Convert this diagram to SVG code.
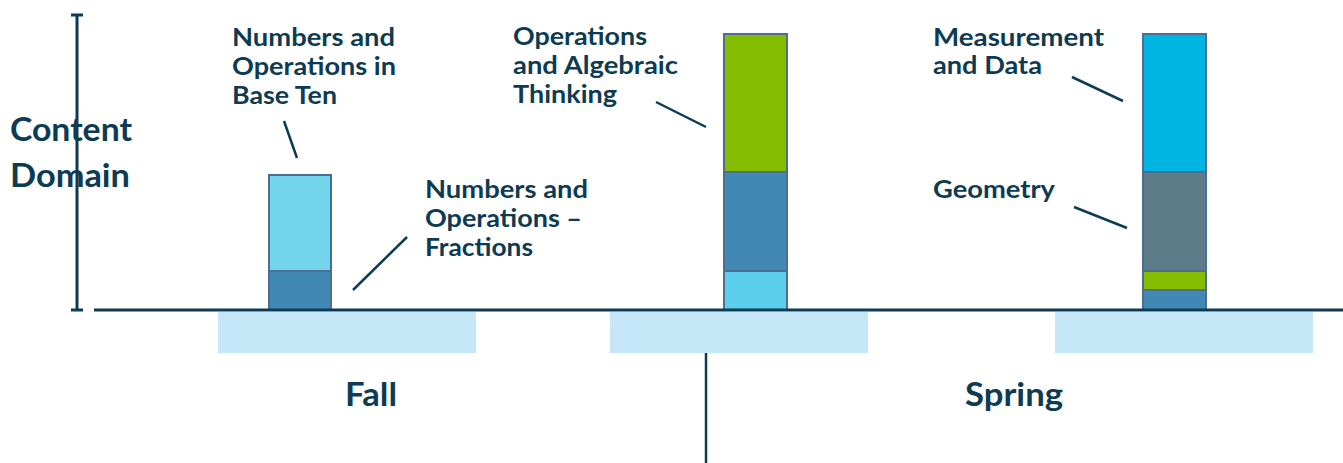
<svg xmlns="http://www.w3.org/2000/svg" width="1343" height="463" viewBox="0 0 1343 463">
<style>
.t{font-family:Lato,"Open Sans","Liberation Sans",sans-serif;font-weight:700;fill:#0d3b53;}
.lbl{font-size:24px;}
.big{font-size:33px;}
.ax{stroke:#0d3b53;stroke-width:3;fill:none;}
.ld{stroke:#0d3b53;stroke-width:2.5;fill:none;}
.shade{fill:#c5e7f8;}
.seg{stroke:#4d6e91;stroke-width:2;}
</style>
<rect width="1343" height="463" fill="#ffffff"/>
<g id="shades">
<rect class="shade" x="218" y="312" width="258" height="41"/>
<rect class="shade" x="610" y="312" width="258" height="41"/>
<rect class="shade" x="1055" y="312" width="258" height="41"/>
</g>
<g id="axes">
<line class="ax" x1="77" y1="15" x2="77" y2="310"/>
<line class="ax" x1="71" y1="15" x2="83" y2="15"/>
<line class="ax" x1="71" y1="310" x2="83" y2="310"/>
<line class="ax" x1="706" y1="353" x2="706" y2="463" style="stroke-width:2.5"/>
</g>
<g id="bar-fall">
<rect class="seg" x="269" y="175" width="62" height="96" fill="#72d5ed"/>
<rect class="seg" x="269" y="271" width="62" height="39" fill="#4189b4"/>
</g>
<g id="bar-mid">
<rect class="seg" x="724" y="34" width="63" height="138" fill="#84bd00"/>
<rect class="seg" x="724" y="172" width="63" height="99" fill="#4189b4"/>
<rect class="seg" x="724" y="271" width="63" height="39" fill="#5bcfec"/>
</g>
<g id="bar-spring">
<rect class="seg" x="1143" y="34" width="63" height="138" fill="#00b5e2"/>
<rect class="seg" x="1143" y="172" width="63" height="99" fill="#5e7b8a"/>
<rect class="seg" x="1143" y="271" width="63" height="19" fill="#84bd00"/>
<rect class="seg" x="1143" y="290" width="63" height="20" fill="#4189b4"/>
</g>
<line class="ax" x1="94" y1="310" x2="1343" y2="310" id="baseline"/>
<g id="y-label">
<text class="t big" x="10" y="141" textLength="122" lengthAdjust="spacingAndGlyphs">Content</text>
<text class="t big" x="10" y="187" textLength="120" lengthAdjust="spacingAndGlyphs">Domain</text>
</g>
<g id="label-nbt">
<text class="t lbl" x="232" y="46" textLength="163" lengthAdjust="spacingAndGlyphs">Numbers and</text>
<text class="t lbl" x="232" y="75" textLength="164" lengthAdjust="spacingAndGlyphs">Operations in</text>
<text class="t lbl" x="232" y="104" textLength="105" lengthAdjust="spacingAndGlyphs">Base Ten</text>
</g>
<g id="label-nf">
<text class="t lbl" x="425" y="198" textLength="163" lengthAdjust="spacingAndGlyphs">Numbers and</text>
<text class="t lbl" x="425" y="227" textLength="157" lengthAdjust="spacingAndGlyphs">Operations –</text>
<text class="t lbl" x="425" y="256" textLength="108" lengthAdjust="spacingAndGlyphs">Fractions</text>
</g>
<g id="label-oa">
<text class="t lbl" x="513" y="45" textLength="134" lengthAdjust="spacingAndGlyphs">Operations</text>
<text class="t lbl" x="513" y="74" textLength="165" lengthAdjust="spacingAndGlyphs">and Algebraic</text>
<text class="t lbl" x="513" y="103" textLength="104" lengthAdjust="spacingAndGlyphs">Thinking</text>
</g>
<g id="label-md">
<text class="t lbl" x="933" y="46" textLength="171" lengthAdjust="spacingAndGlyphs">Measurement</text>
<text class="t lbl" x="933" y="74" textLength="109" lengthAdjust="spacingAndGlyphs">and Data</text>
</g>
<g id="label-geo">
<text class="t lbl" x="933" y="198" textLength="122" lengthAdjust="spacingAndGlyphs">Geometry</text>
</g>
<g id="label-fall">
<text class="t big" x="345" y="406" textLength="52" lengthAdjust="spacingAndGlyphs">Fall</text>
</g>
<g id="label-spring">
<text class="t big" x="965" y="406" textLength="98" lengthAdjust="spacingAndGlyphs">Spring</text>
</g>
<g id="connectors">
<line class="ld" x1="284" y1="121" x2="297" y2="158"/>
<line class="ld" x1="407" y1="237" x2="353" y2="290"/>
<line class="ld" x1="656" y1="102" x2="706" y2="127"/>
<line class="ld" x1="1072" y1="77" x2="1123" y2="101"/>
<line class="ld" x1="1074" y1="207" x2="1127" y2="228"/>
</g>
</svg>
